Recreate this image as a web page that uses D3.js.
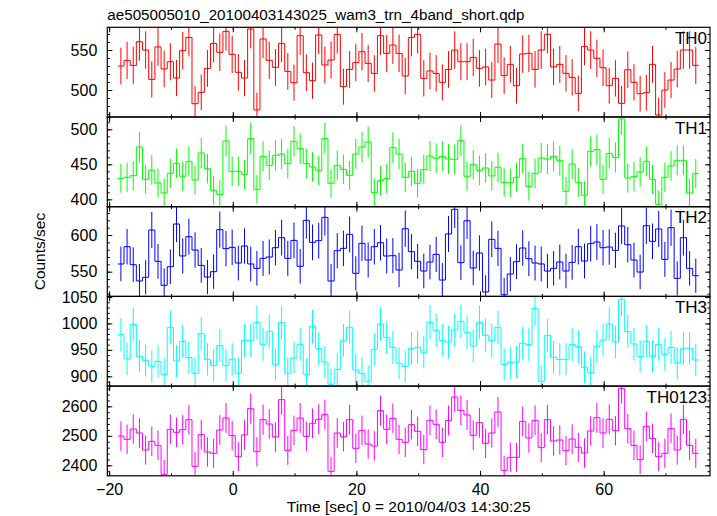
<!DOCTYPE html>
<html><head><meta charset="utf-8">
<script src="https://cdn.jsdelivr.net/npm/d3@7"></script>
<style>body{margin:0;background:#fff} text{font-family:"Liberation Sans",Arial,Helvetica,sans-serif}</style>
</head><body><svg id="c" width="717" height="516"></svg>
<script>
// ---- data ----
const titleText = "ae505005010_20100403143025_wam3_trn_4band_short.qdp";
const xTitle = "Time [sec] 0 = 2010/04/03 14:30:25";
const yTitle = "Counts/sec";
const panelNames = ["TH0", "TH1", "TH2", "TH3", "TH0123"];
const panelColors = ["#ff0000", "#00ff00", "#0000ff", "#00ffff", "#ff00ff"];
const binStart = -18.1;           // centre of first 1-s bin
const nBins = 94;
const times = d3.range(nBins).map(i => binStart + i);

const th0 = [530.0,537.1,530.8,560.4,550.0,513.3,553.8,526.3,535.4,515.0,549.2,565.8,482.9,497.1,527.1,558.3,547.1,573.3,544.6,522.1,
515.0,576.3,475.0,563.8,537.1,528.3,558.3,523.3,509.2,567.9,521.7,511.7,568.8,531.3,537.5,569.6,504.2,525.8,534.2,547.9,
533.3,520.8,567.9,545.8,556.3,545.8,517.5,565.8,569.6,514.6,523.8,520.8,509.6,525.8,550.0,535.4,535.4,540.8,527.1,528.8,
512.5,557.5,518.0,532.1,505.4,545.0,545.8,525.8,550.0,569.6,528.8,532.1,520.8,515.8,495.8,554.6,550.0,539.6,527.9,505.4,
514.6,483.3,525.4,509.6,495.4,496.7,532.1,468.8,500.0,512.5,526.3,550.0,550.0,530.8];

const th1 = [430.0,431.5,433.8,474.8,428.6,441.9,423.4,409.1,437.2,451.4,432.9,454.3,427.6,466.2,443.8,412.9,407.2,483.3,440.0,440.0,
435.7,486.7,414.3,461.4,448.6,462.9,464.8,451.0,482.9,472.4,451.0,446.2,441.5,487.1,422.9,448.6,442.9,434.3,464.8,474.8,
481.9,409.6,426.7,429.6,473.8,464.8,431.5,440.0,422.9,442.4,461.9,458.6,461.4,457.6,457.2,484.3,432.9,449.5,441.5,444.8,
433.4,445.7,424.3,423.4,431.5,458.1,418.6,437.2,459.1,457.6,461.4,455.3,411.5,450.5,424.3,405.8,468.6,471.0,428.6,465.7,
460.0,514.8,430.5,432.4,439.1,454.3,428.6,392.9,431.5,447.6,455.7,455.7,409.1,436.7];

const th2 = [560.5,584.1,559.5,537.3,542.3,606.8,564.1,531.4,556.8,615.0,571.4,597.7,579.5,558.6,542.7,550.0,607.3,581.4,583.2,561.8,
585.0,560.5,554.5,568.2,570.0,582.7,596.4,568.2,592.7,557.3,620.0,590.0,592.3,624.1,537.3,578.6,581.8,600.9,547.7,588.6,
565.9,584.1,589.5,571.4,571.8,552.3,608.6,577.3,564.1,550.9,563.2,573.6,538.6,601.4,635.0,562.3,619.5,555.0,575.5,522.3,
594.1,581.8,518.6,546.8,563.6,582.3,567.7,561.8,560.5,550.9,554.5,563.2,550.9,562.7,584.1,564.5,588.2,590.5,582.7,583.6,
579.1,612.3,586.8,565.9,549.5,612.7,591.4,608.2,566.8,610.0,540.9,596.4,554.5,544.5];

const th3 = [978.8,932.8,998.3,937.8,930.2,918.9,928.4,903.8,992.6,929.0,966.2,935.3,905.7,980.7,932.1,920.8,958.0,920.2,932.1,905.7,
968.1,968.1,1002.1,960.5,985.1,922.7,1001.5,905.7,934.7,960.5,903.8,994.5,952.3,927.1,884.9,913.2,968.1,992.6,912.0,905.7,
890.5,951.0,998.9,973.7,954.8,924.6,918.9,952.9,954.8,945.4,1002.1,987.0,968.1,964.9,987.6,1004.0,983.2,957.3,1002.1,977.5,
967.4,992.6,922.7,925.8,927.1,962.4,959.9,1027.9,890.5,977.5,935.9,932.1,932.1,959.9,956.1,917.0,906.9,956.7,968.7,998.9,
964.9,1045.6,984.4,961.1,937.8,966.2,937.8,960.5,941.6,954.8,925.2,952.9,952.9,930.9];

const th0123 = [2499.4,2488.1,2523.2,2509.6,2452.0,2481.4,2467.8,2369.5,2522.0,2511.9,2520.9,2554.8,2396.6,2504.0,2445.2,2440.7,2519.8,2560.5,2500.6,2429.4,
2502.8,2592.1,2446.3,2554.8,2540.1,2496.0,2622.6,2450.8,2518.6,2560.5,2498.3,2542.4,2555.9,2571.8,2379.6,2509.6,2497.2,2554.8,2457.6,2518.6,
2472.3,2465.5,2585.3,2522.0,2559.3,2488.1,2478.0,2537.9,2515.3,2453.1,2552.5,2539.0,2478.0,2552.5,2631.6,2586.4,2570.6,2501.7,2544.6,2474.6,
2509.6,2580.8,2383.0,2427.1,2427.1,2549.1,2492.7,2552.5,2459.9,2554.8,2482.5,2485.9,2449.7,2489.3,2461.0,2441.8,2516.4,2561.6,2509.6,2555.9,
2517.5,2661.0,2524.3,2467.8,2419.2,2532.2,2491.5,2429.4,2440.7,2525.4,2452.0,2555.9,2467.8,2440.7];

const seriesValues = [th0, th1, th2, th3, th0123];
const yDomains = [[466.3, 578.4], [389.5, 517.6], [516.3, 638.6], [881.5, 1051.1], [2364.5, 2668.6]];
const yTickLabels = [[500, 550], [400, 450, 500], [550, 600], [900, 950, 1000, 1050], [2400, 2500, 2600]];
const yMinorStep = [10, 10, 10, 10, 20];
const xDomain = [-20.3, 77.2];
const xTickLabels = [-20, 0, 20, 40, 60];
const xMinorTicks = [-20, -10, 0, 10, 20, 30, 40, 50, 60, 70];

// ---- layout ----
const L = 107.3, R = 710, T = 27.3, PH = 89.7;
const FONT = '"Liberation Sans",Arial,sans-serif';
const svg = d3.select("#c");
const x = d3.scaleLinear().domain(xDomain).range([L, R]);

svg.append("text").attr("x", L).attr("y", 20).attr("font-size", 15.2).attr("fill", "#000").text(titleText);

panelNames.forEach((name, p) => {
  const top = T + p * PH, bot = top + PH;
  const y = d3.scaleLinear().domain(yDomains[p]).range([bot, top]);
  const g = svg.append("g");
  const cid = "clip" + p;
  svg.append("clipPath").attr("id", cid).append("rect").attr("x", L).attr("y", top).attr("width", R - L).attr("height", PH);
  const vals = seriesValues[p];
  const data = times.map((t, i) => ({t, v: vals[i]}));
  const dg = g.append("g").attr("clip-path", `url(#${cid})`);
  dg.selectAll("line.err").data(data).join("line")
    .attr("x1", d => x(d.t)).attr("x2", d => x(d.t))
    .attr("y1", d => y(d.v - Math.sqrt(d.v))).attr("y2", d => y(d.v + Math.sqrt(d.v)))
    .attr("stroke", panelColors[p]).attr("stroke-width", 1);
  const pts = data.flatMap(d => [[d.t - 0.5, d.v], [d.t + 0.5, d.v]]);
  dg.append("path").attr("d", d3.line().x(d => x(d[0])).y(d => y(d[1]))(pts))
    .attr("fill", "none").attr("stroke", panelColors[p]).attr("stroke-width", 1);

  // axes (inward ticks)
  const yr = yDomains[p];
  const minor = d3.range(Math.ceil(yr[0] / yMinorStep[p]) * yMinorStep[p], yr[1], yMinorStep[p]);
  const axes = [
    d3.axisLeft(y).tickValues(minor).tickSize(-2.5).tickFormat(""),
    d3.axisLeft(y).tickValues(yTickLabels[p]).tickSize(-5).tickPadding(10).tickFormat(d3.format("d")),
  ];
  axes.forEach(a => {
    const ag = g.append("g").attr("transform", `translate(${L},0)`).call(a);
    ag.select(".domain").remove();
    ag.selectAll("text").attr("font-size", 16).attr("fill", "#000").attr("font-family", FONT);
  });
  [d3.axisRight(y).tickValues(minor).tickSize(-2.5).tickFormat(""),
   d3.axisRight(y).tickValues(yTickLabels[p]).tickSize(-5).tickFormat("")].forEach(a => {
    g.append("g").attr("transform", `translate(${R},0)`).call(a).select(".domain").remove();
  });
  [[d3.axisBottom(x), bot], [d3.axisTop(x), top]].forEach(([mk, pos]) => {
    g.append("g").attr("transform", `translate(0,${pos})`).call(mk.tickValues(xMinorTicks).tickSize(-2.5).tickFormat("")).select(".domain").remove();
  });
  const bx = d3.axisBottom(x).tickValues(xTickLabels).tickSize(-5).tickPadding(8)
      .tickFormat(p === panelNames.length - 1 ? d3.format("d") : "");
  const bg = g.append("g").attr("transform", `translate(0,${bot})`).call(bx);
  bg.select(".domain").remove();
  bg.selectAll("text").attr("font-size", 16).attr("fill", "#000").attr("font-family", FONT);
  const tg = g.append("g").attr("transform", `translate(0,${top})`).call(d3.axisTop(x).tickValues(xTickLabels).tickSize(-5).tickFormat(""));
  tg.select(".domain").remove();
  g.selectAll(".tick line").attr("stroke", "#000");
  g.append("rect").attr("x", L).attr("y", top).attr("width", R - L).attr("height", PH)
    .attr("fill", "none").attr("stroke", "#000").attr("stroke-width", 1.2);
  g.append("text").attr("x", 707).attr("y", top + 16.5).attr("text-anchor", "end")
    .attr("font-size", 17).attr("fill", "#000").text(name);
});

svg.append("text").attr("transform", `translate(45,${T + 2.5 * PH}) rotate(-90)`)
  .attr("text-anchor", "middle").attr("font-size", 15.5).attr("fill", "#000").text(yTitle);
svg.append("text").attr("x", (L + R) / 2).attr("y", 512).attr("text-anchor", "middle")
  .attr("font-size", 15.5).attr("fill", "#000").text(xTitle);
</script></body></html>
